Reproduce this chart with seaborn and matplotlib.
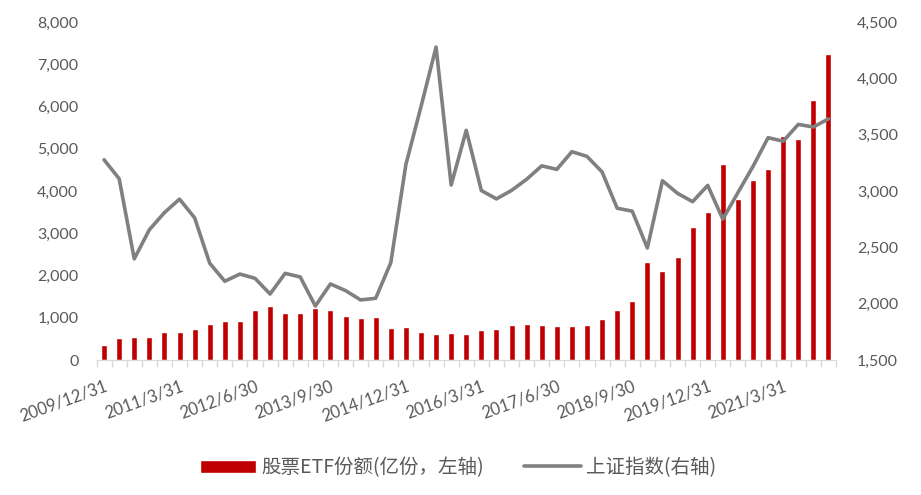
import numpy as np
import pandas as pd
import seaborn as sns
import matplotlib.pyplot as plt
from matplotlib.ticker import FuncFormatter, FixedLocator

sns.set_style("white")
plt.rcParams['font.family'] = ['Lato', 'Noto Sans CJK SC', 'DejaVu Sans']

# quarter ends 2009/12/31 .. 2021/12/31
dates = pd.date_range('2009-12-31', periods=49, freq='QE')
quarters = [f"{d.year}/{d.month}/{d.day}" for d in dates]

# stock ETF shares (100m units, left axis)
etf_shares = [360, 510, 545, 550, 670, 670, 735, 845, 925, 925,
              1185, 1285, 1105, 1105, 1220, 1185, 1050, 995, 1025, 750,
              780, 670, 620, 645, 620, 700, 725, 835, 860, 835,
              810, 810, 835, 970, 1175, 1385, 2320, 2105, 2445, 3150,
              3495, 4640, 3810, 4270, 4510, 5310, 5230, 6145, 7240]

# Shanghai composite index (right axis)
sse_index = [3277, 3109, 2398, 2656, 2808, 2928, 2762, 2359, 2199, 2263,
             2225, 2086, 2269, 2237, 1979, 2175, 2116, 2033, 2048, 2364,
             3235, 3748, 4277, 3053, 3539, 3004, 2930, 3005, 3104, 3223,
             3192, 3349, 3307, 3169, 2847, 2821, 2494, 3091, 2979, 2905,
             3050, 2750, 2985, 3218, 3473, 3442, 3591, 3568, 3640]

df = pd.DataFrame({'q': quarters, 'etf': etf_shares, 'sse': sse_index,
                   'pos': np.arange(len(quarters))})

red = '#C00000'
grey_line = '#808080'
txt = '#595959'

fig = plt.figure(figsize=(9.21, 4.95), dpi=100)
ax = fig.add_axes([0.1048, 0.2727, 0.8029, 0.6829])
ax2 = ax.twinx()

sns.barplot(data=df, x='q', y='etf', color=red, width=0.4, saturation=1,
            ax=ax, label='股票ETF份额(亿份，左轴)')
sns.lineplot(data=df, x='pos', y='sse', color=grey_line, linewidth=2.6,
             ax=ax2, label='上证指数(右轴)', legend=False)
if ax.get_legend() is not None:
    ax.get_legend().remove()

n = len(quarters)
ax.set_xlim(-0.5, n - 0.5)
ax.set_ylim(0, 8000)
ax.set_yticks(np.arange(0, 8001, 1000))
ax2.set_ylim(1500, 4500)
ax2.set_yticks(np.arange(1500, 4501, 500))
comma = FuncFormatter(lambda v, p: f"{int(v):,}")
ax.yaxis.set_major_formatter(comma)
ax2.yaxis.set_major_formatter(comma)

ax.xaxis.set_major_locator(FixedLocator(list(range(0, n, 5))))
ax.set_xticklabels([quarters[i] for i in range(0, n, 5)], rotation=20,
                   ha='right', rotation_mode='anchor')
ax.xaxis.set_minor_locator(FixedLocator([i - 0.5 for i in range(n + 1)]))
ax.tick_params(axis='x', which='major', length=0, pad=13, labelsize=12,
               labelcolor=txt)
ax.tick_params(axis='x', which='minor', length=5, width=1, color='#D9D9D9',
               direction='out', bottom=True)
ax.tick_params(axis='y', length=0, labelsize=11.5, labelcolor=txt, pad=13)
ax2.tick_params(axis='y', length=0, labelsize=11.5, labelcolor=txt, pad=15)

ax.set_xlabel('')
ax.set_ylabel('')
ax2.set_xlabel('')
ax2.set_ylabel('')
for a in (ax, ax2):
    for s in ('top', 'left', 'right'):
        a.spines[s].set_visible(False)
    a.spines['bottom'].set_color('#D9D9D9')
ax2.spines['bottom'].set_visible(False)
ax.grid(False)
ax2.grid(False)

h1, l1 = ax.get_legend_handles_labels()
h2, l2 = ax2.get_legend_handles_labels()
leg = fig.legend(h1 + h2, l1 + l2, loc='center', bbox_to_anchor=(0.497, 0.055),
                 ncol=2, frameon=False, handlelength=2.9, handleheight=0.7,
                 handletextpad=0.25, columnspacing=2.1,
                 prop={'family': ['Noto Sans CJK SC', 'DejaVu Sans'], 'size': 14})
for t in leg.get_texts():
    t.set_color(txt)

fig.savefig('out.png', dpi=100)
